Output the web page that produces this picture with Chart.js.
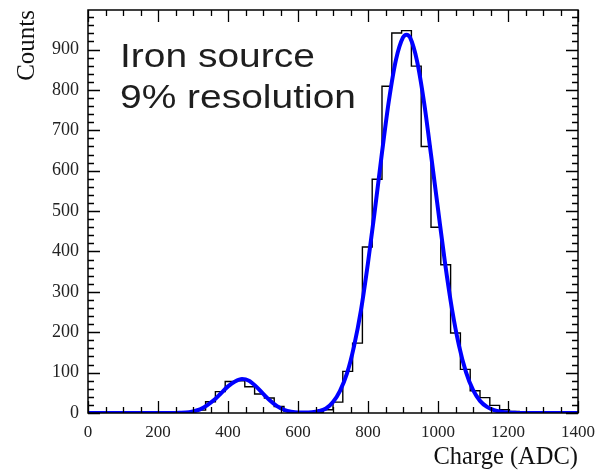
<!DOCTYPE html>
<html><head><meta charset="utf-8">
<script src="https://cdn.jsdelivr.net/npm/chart.js@4/dist/chart.umd.min.js"></script>
<style>html,body{margin:0;padding:0;background:#fff}</style>
</head><body>
<canvas id="c" width="596" height="474"></canvas>
<script>
// ---- data ----
const BIN_WIDTH = 28; // 50 bins over 0..1400 ADC
const binCounts = [
  0,0,0,0,0,0,0,0,0,
  1,3,7,28,53,78,80,65,47,37,16,4,1,1,2,
  8,27,103,173,411,579,809,941,947,859,660,460,367,198,108,55,38,19,8,4,2,
  0,0,0,0,0
];
const fitCharge = [0,20,40,60,80,100,120,140,160,180,200,220,240,260,280,300,320,340,360,380,400,420,440,460,480,500,520,540,560,580,600,620,640,660,680,700,720,740,760,780,800,820,840,860,880,900,910,920,940,960,980,1000,1020,1040,1060,1080,1100,1120,1140,1160,1180,1200,1220,1240,1260,1280,1300,1320,1340,1360,1380,1400];
const fitCounts = [0,0,0,0,0,0,0,0,0,0,0,0,0,0.5,1,4,9,19,32,49,66,78,84,80,66,48,31,17,8,3,1,1,2,5,11,27,55,98,165,255,372,505,645,775,875,930,937,930,872,770,640,505,372,257,167,101,57,30,15,7,3,1,0.5,0,0,0,0,0,0,0,0,0];
const xTickValues = [0,200,400,600,800,1000,1200,1400];
const yTickValues = [0,100,200,300,400,500,600,700,800,900];
const xTitle = 'Charge (ADC)';
const yTitle = 'Counts';
const annotationLines = ['Iron source', '9% resolution'];

// histogram as stepped outline through bin lower edges
const binLow = binCounts.map((_, i) => i * BIN_WIDTH);
const histPoints = binLow.map((x, i) => ({x, y: binCounts[i]}));
histPoints.push({x: binLow.length * BIN_WIDTH, y: binCounts[binCounts.length - 1]});
const fitPoints = fitCharge.map((x, i) => ({x, y: fitCounts[i]}));

const framePlugin = {
  id: 'frame',
  afterDatasetsDraw(chart) {
    const {ctx, chartArea: a, scales: {x, y}} = chart;
    ctx.save();
    ctx.strokeStyle = '#000';
    ctx.lineWidth = 1.3;
    ctx.beginPath();
    for (let v = 0; v <= y.max; v += 20) {
      const p = Math.round(y.getPixelForValue(v)) + 0.5;
      const len = (v % 100 === 0) ? 12 : 6;
      ctx.moveTo(a.left, p); ctx.lineTo(a.left + len, p);
      ctx.moveTo(a.right, p); ctx.lineTo(a.right - len, p);
    }
    for (let v = 0; v <= x.max; v += 50) {
      const p = Math.round(x.getPixelForValue(v)) + 0.5;
      const len = (v % 200 === 0) ? 12 : 6;
      ctx.moveTo(p, a.bottom); ctx.lineTo(p, a.bottom - len);
      ctx.moveTo(p, a.top); ctx.lineTo(p, a.top + len);
    }
    ctx.stroke();
    ctx.lineWidth = 1.5;
    ctx.strokeRect(a.left, a.top, a.right - a.left, a.bottom - a.top);
    ctx.restore();
  },
  afterDraw(chart) {
    const {ctx} = chart;
    ctx.save();
    ctx.fillStyle = '#1e1e1e';
    ctx.font = '33px "Liberation Sans", Arial, sans-serif';
    ctx.textBaseline = 'alphabetic';
    ctx.translate(120, 0);
    ctx.scale(1.18, 1);
    ctx.fillText(annotationLines[0], 0, 67);
    ctx.fillText(annotationLines[1], 0, 108);
    ctx.restore();
  }
};

const serif = '"Liberation Serif", "Times New Roman", serif';

new Chart(document.getElementById('c'), {
  type: 'line',
  data: {
    datasets: [
      {
        label: 'fit', data: fitPoints, borderColor: '#0000ff', borderWidth: 4,
        pointRadius: 0, fill: false, cubicInterpolationMode: 'monotone'
      },
      {
        label: 'data', data: histPoints, borderColor: '#000', borderWidth: 1.4,
        pointRadius: 0, fill: false, stepped: 'before'
      }
    ]
  },
  options: {
    responsive: false,
    animation: false,
    devicePixelRatio: 1,
    layout: {padding: {top: 10, right: 18, left: 0, bottom: 0}},
    plugins: {legend: {display: false}, tooltip: {enabled: false}},
    scales: {
      x: {
        type: 'linear', min: 0, max: 1400,
        afterBuildTicks: s => { s.ticks = xTickValues.map(v => ({value: v})); },
        afterFit: s => { s.height = 61; s.paddingLeft = 0; s.paddingRight = 0; },
        grid: {display: false, drawTicks: false}, border: {display: false},
        ticks: {padding: 9, maxRotation: 0, autoSkip: false, color: '#222',
                callback: v => String(v),
                font: {family: serif, size: 17}},
        title: {display: true, text: xTitle, align: 'end', color: '#111',
                padding: {top: 0, bottom: 2},
                font: {family: serif, size: 24.5}}
      },
      y: {
        type: 'linear', min: 0, max: 998,
        afterBuildTicks: s => { s.ticks = yTickValues.map(v => ({value: v})); },
        afterFit: s => { s.width = 88; s.paddingTop = 0; s.paddingBottom = 0; },
        grid: {display: false, drawTicks: false}, border: {display: false},
        ticks: {padding: 9, autoSkip: false, color: '#222',
                callback: v => String(v),
                font: {family: serif, size: 18}},
        title: {display: true, text: yTitle, align: 'end', color: '#111',
                padding: {top: 12, bottom: 0},
                font: {family: serif, size: 25}}
      }
    }
  },
  plugins: [framePlugin]
});
</script>
</body></html>
